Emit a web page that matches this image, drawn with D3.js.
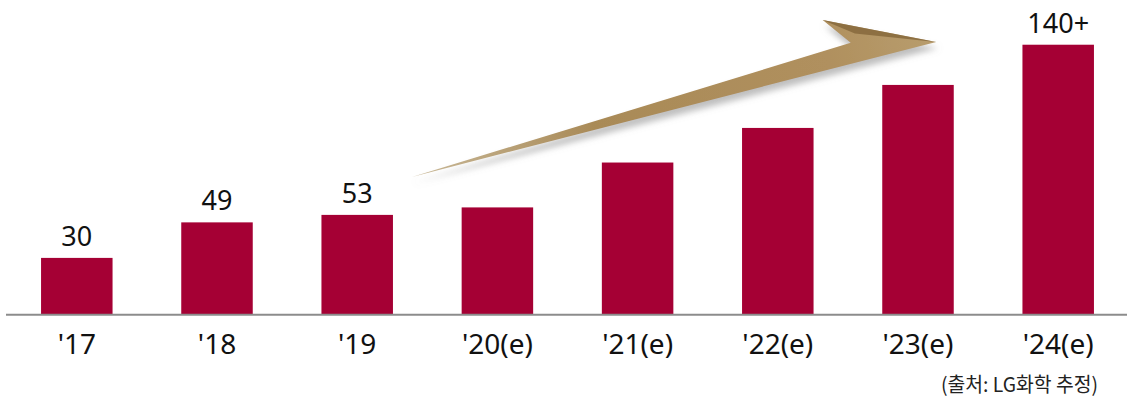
<!DOCTYPE html>
<html>
<head>
<meta charset="utf-8">
<script src="https://cdn.jsdelivr.net/npm/d3@7"></script>
<style>
  html, body { margin: 0; padding: 0; background: #fff; }
  svg { display: block; }
</style>
</head>
<body>
<svg id="chart" width="1127" height="400"></svg>
<script>
// ---- data ----
const categories = ["'17", "'18", "'19", "'20(e)", "'21(e)", "'22(e)", "'23(e)", "'24(e)"];
const values = [30, 49, 53, 57, 81, 99.5, 122.5, 144];
const valueLabels = ["30", "49", "53", "", "", "", "", "140+"];
const sourceNote = "(출처: LG화학 추정)";

// ---- layout ----
const W = 1127, H = 400;
const baseY = 314;
const svg = d3.select("#chart");

const x = d3.scaleBand()
  .domain(categories)
  .range([6, 1129])
  .paddingInner(0.49)
  .paddingOuter(0.25);

const y = d3.scaleLinear()
  .domain([0, 150])
  .range([baseY, baseY - 150 * 1.87]);

const cx = d => x(d) + x.bandwidth() / 2;
const step = x.step();

// ---- arrow (decoration) ----
const defs = svg.append("defs");
const grad = defs.append("linearGradient")
  .attr("id", "arrowGrad")
  .attr("gradientUnits", "userSpaceOnUse")
  .attr("x1", cx("'19") + 0.39 * step).attr("y1", y(73))
  .attr("x2", cx("'23(e)") + 0.13 * step).attr("y2", y(145.5));
grad.append("stop").attr("offset", "0").attr("stop-color", "#c9b999");
grad.append("stop").attr("offset", "0.35").attr("stop-color", "#a98a57");
grad.append("stop").attr("offset", "0.8").attr("stop-color", "#b0905e");
grad.append("stop").attr("offset", "1").attr("stop-color", "#b89d6e");

const shadow = defs.append("filter").attr("id", "shadow")
  .attr("x", "-10%").attr("y", "-30%").attr("width", "130%").attr("height", "180%");
shadow.append("feGaussianBlur").attr("in", "SourceAlpha").attr("stdDeviation", 3).attr("result", "blur");
shadow.append("feOffset").attr("in", "blur").attr("dx", 2).attr("dy", 6).attr("result", "off");
shadow.append("feFlood").attr("flood-color", "#8a8a8a").attr("flood-opacity", 0.55);
shadow.append("feComposite").attr("in2", "off").attr("operator", "in").attr("result", "sh");
const mrg = shadow.append("feMerge");
mrg.append("feMergeNode").attr("in", "sh");
mrg.append("feMergeNode").attr("in", "SourceGraphic");

const tail  = [cx("'19") + 0.39 * step, y(73.3)];
const notch = [cx("'23(e)") - 0.48 * step, y(145)];
const barb  = [cx("'23(e)") - 0.68 * step, y(157.2)];
const tip   = [cx("'23(e)") + 0.13 * step, y(145.5)];
const barbInner = [cx("'23(e)") - 0.45 * step, y(150)];

const arrowG = svg.append("g").attr("filter", "url(#shadow)");
arrowG.append("path")
  .attr("d", d3.line()([tail, notch, barb, tip, tail]) + "Z")
  .attr("fill", "url(#arrowGrad)");
// darker upper face of the barb
svg.append("path")
  .attr("d", d3.line()([barb, tip, barbInner]) + "Z")
  .attr("fill", "#86683c")
  .attr("opacity", 0.85);

// ---- bars ----
svg.append("g").selectAll("rect")
  .data(categories)
  .join("rect")
  .attr("x", d => x(d))
  .attr("width", x.bandwidth())
  .attr("y", (d, i) => y(values[i]))
  .attr("height", (d, i) => baseY - y(values[i]))
  .attr("fill", "#a50034");

// ---- baseline axis ----
svg.append("line")
  .attr("x1", 6).attr("x2", W)
  .attr("y1", baseY + 0.7).attr("y2", baseY + 0.7)
  .attr("stroke", "#8c8c8c")
  .attr("stroke-width", 2);

// ---- value labels ----
svg.append("g").selectAll("text")
  .data(categories)
  .join("text")
  .attr("x", d => cx(d))
  .attr("y", (d, i) => y(values[i]) - 12)
  .attr("text-anchor", "middle")
  .attr("font-family", "'Noto Sans', 'Open Sans', sans-serif")
  .attr("font-size", 27)
  .attr("fill", "#111")
  .text((d, i) => valueLabels[i]);

// ---- category labels ----
svg.append("g").selectAll("text")
  .data(categories)
  .join("text")
  .attr("x", d => cx(d))
  .attr("y", 354)
  .attr("text-anchor", "middle")
  .attr("font-family", "'Noto Sans', 'Open Sans', sans-serif")
  .attr("font-size", 28)
  .attr("fill", "#111")
  .text(d => d);

// ---- source note ----
svg.append("text")
  .attr("x", 941)
  .attr("y", 392)
  .attr("text-anchor", "start")
  .attr("font-family", "'Noto Sans CJK KR', sans-serif")
  .attr("font-size", 20)
  .attr("textLength", 157)
  .attr("lengthAdjust", "spacingAndGlyphs")
  .attr("fill", "#222")
  .text(sourceNote);
</script>
</body>
</html>
